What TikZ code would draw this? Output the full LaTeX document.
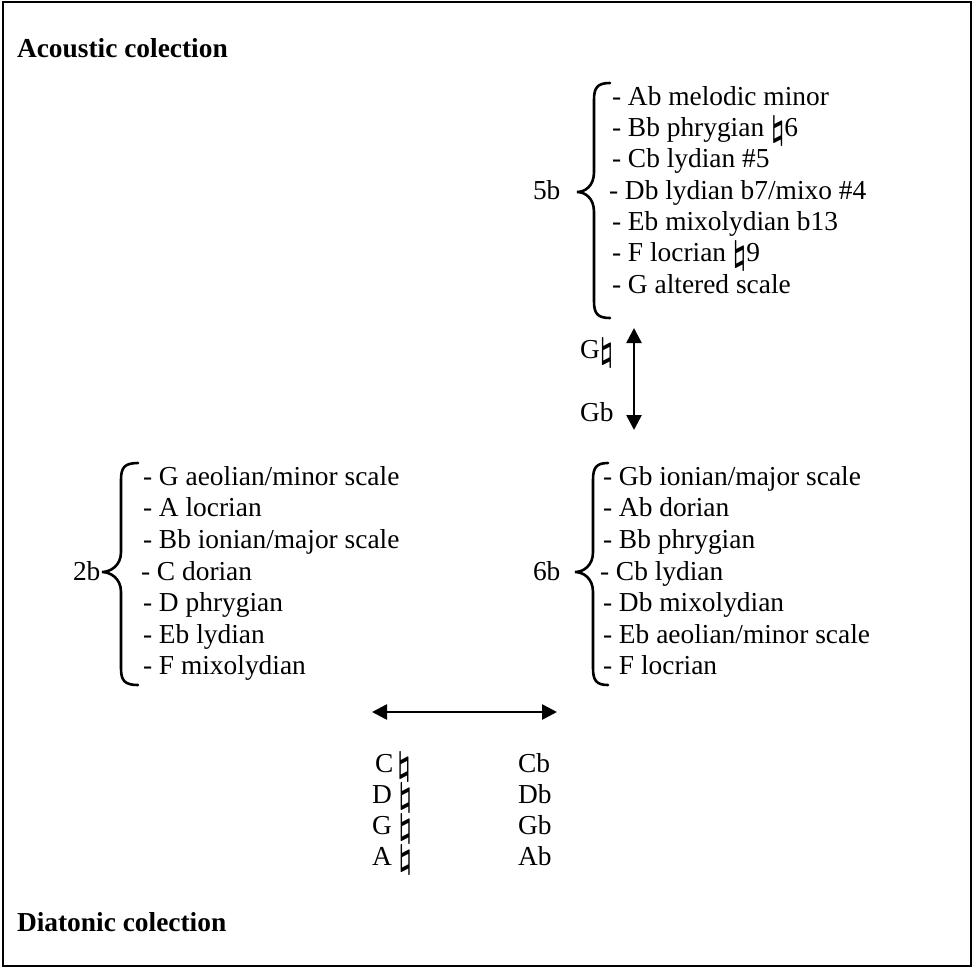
\documentclass[tikz,border=0pt]{standalone}
\usepackage{fontspec}
\usepackage{graphicx}
\setmainfont{Liberation Serif}
\usetikzlibrary{arrows.meta}
\newcommand\nat{\raisebox{-3pt}{\scalebox{1.2}[1.32]{\boldmath$\natural$}}}
% brace: tip x, vertical x, end x, top y, mid y, bottom y
\newcommand\mybrace[6]{%
  \draw[bracestyle] (#3,#4) .. controls ({#2+3},#4) and (#2,{#4+5}) .. (#2,{#4+17})
    -- (#2,{#5-20}) .. controls (#2,{#5-6}) and ({#1+8},#5) .. (#1,#5)
    .. controls ({#1+8},#5) and (#2,{#5+6}) .. (#2,{#5+20})
    -- (#2,{#6-17}) .. controls (#2,{#6-5}) and ({#2+3},#6) .. (#3,#6);}
\begin{document}
\begin{tikzpicture}[x=1pt,y=-1pt,
  txt/.style={inner sep=0pt, outer sep=0pt, anchor=base west, font=\fontsize{27.4}{32}\selectfont},
  ttl/.style={txt, font=\fontsize{27.4}{32}\selectfont\bfseries},
  bracestyle/.style={line width=2.6pt, line cap=round},
  arr/.style={line width=2.6pt, {Triangle[length=15pt,width=15pt]}-{Triangle[length=15pt,width=15pt]}}]
\useasboundingbox (0,0) rectangle (973,967);
\draw[line width=2pt] (3,2) rectangle (971,966);

\node[ttl] (t1) at (17,57) {Acoustic colection};
\node[ttl] (t2) at (17,931) {Diatonic colection};

% 5b list
\node[txt] (l5) at (533,199) {5b};
\mybrace{577}{594}{610}{83}{192}{318}
\node[txt] (a1) at (612,105) {- Ab melodic minor};
\node[txt] (a2) at (612,136.3) {- Bb phrygian \nat6};
\node[txt] (a3) at (612,167.6) {- Cb lydian \#5};
\node[txt] (a4) at (609,199) {- Db lydian b7/mixo \#4};
\node[txt] (a5) at (612,230.2) {- Eb mixolydian b13};
\node[txt] (a6) at (612,261.5) {- F locrian \nat9};
\node[txt] (a7) at (612,293) {- G altered scale};

% vertical arrow
\node[txt] (gn) at (580,358) {G\nat};
\node[txt] (gb) at (580,421) {Gb};
\coordinate (vtop) at (634,328);
\coordinate (vbot) at (634,430);
\draw[arr] (vtop) -- (vbot);

% 2b list
\node[txt] (l2) at (73,580) {2b};
\mybrace{102}{121}{138}{463}{572}{685}
\node[txt] (b1) at (143,485) {- G aeolian/minor scale};
\node[txt] (b2) at (143,516.6) {- A locrian};
\node[txt] (b3) at (143,548.2) {- Bb ionian/major scale};
\node[txt] (b4) at (141,580) {- C dorian};
\node[txt] (b5) at (143,611.4) {- D phrygian};
\node[txt] (b6) at (143,643) {- Eb lydian};
\node[txt] (b7) at (143,674.6) {- F mixolydian};

% 6b list
\node[txt] (l6) at (533,580) {6b};
\mybrace{575}{593}{608}{463}{572}{685}
\node[txt] (c1) at (603,485) {- Gb ionian/major scale};
\node[txt] (c2) at (603,516.6) {- Ab dorian};
\node[txt] (c3) at (603,548.2) {- Bb phrygian};
\node[txt] (c4) at (600,580) {- Cb lydian};
\node[txt] (c5) at (603,611.4) {- Db mixolydian};
\node[txt] (c6) at (603,643) {- Eb aeolian/minor scale};
\node[txt] (c7) at (603,674.6) {- F locrian};

% horizontal arrow
\coordinate (hl) at (372,712);
\coordinate (hr) at (557,712);
\draw[arr] (hl) -- (hr);

\node[txt] (n1) at (375,772) {C\kern4pt\nat};
\node[txt] (n2) at (372,803) {D \nat};
\node[txt] (n3) at (372,834) {G \nat};
\node[txt] (n4) at (372,865) {A \nat};
\node[txt] (f1) at (518,772) {Cb};
\node[txt] (f2) at (518,803) {Db};
\node[txt] (f3) at (518,834) {Gb};
\node[txt] (f4) at (518,865) {Ab};
\end{tikzpicture}
\end{document}
